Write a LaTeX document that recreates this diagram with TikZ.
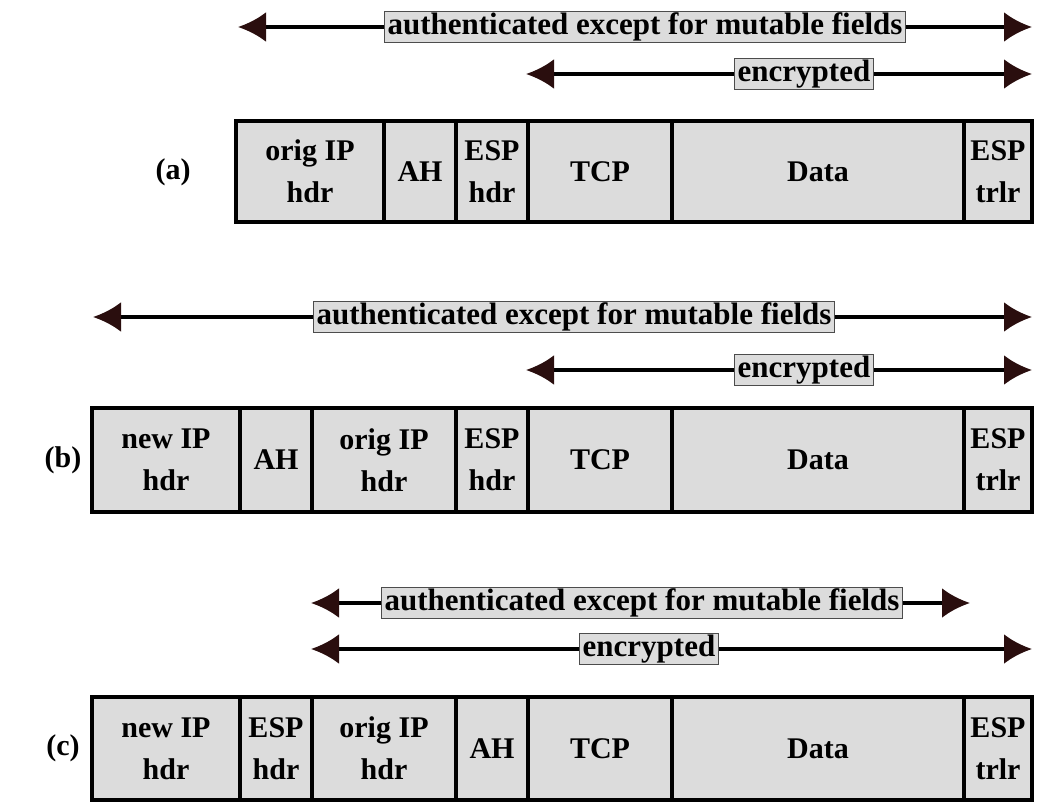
\documentclass[tikz,border=0pt]{standalone}
\usepackage{fontspec}
\setmainfont{Liberation Serif}
\usetikzlibrary{arrows.meta}
\definecolor{cellgray}{HTML}{DCDCDC}
\definecolor{tipcol}{HTML}{2A0E0E}
\tikzset{
  cellst/.style={draw=black, line width=4pt, fill=cellgray, inner sep=0pt, align=center,
    font=\fontsize{30}{42}\selectfont\bfseries},
  lab/.style={draw=black!70, line width=1pt, fill=cellgray, inner xsep=3pt, inner ysep=1pt,
    text height=22pt, text depth=7pt,
    font=\fontsize{31}{34}\selectfont\bfseries},
  rowlab/.style={font=\fontsize{30}{34}\selectfont\bfseries},
  span/.style={draw=black, line width=4pt, -{Latex[length=28pt,width=30pt,color=tipcol]}},
}
\newcommand\cellbox[6]{\node[cellst, minimum width={#3-#2}, minimum height={#5-#4}] (#1) at ({(#2+#3)/2},{(#4+#5)/2}) {#6};}
\begin{document}
\begin{tikzpicture}[x=1pt,y=-1pt]
\useasboundingbox (0,0) rectangle (1037,804);
% ---------- (a)
\node[rowlab] (la) at (173,172) {(a)};
\cellbox{a1}{236}{384}{121}{222}{orig IP\\hdr}
\cellbox{a2}{384}{456}{121}{222}{AH}
\cellbox{a3}{456}{528}{121}{222}{ESP\\hdr}
\cellbox{a4}{528}{672}{121}{222}{TCP}
\cellbox{a5}{672}{964}{121}{222}{Data}
\cellbox{a6}{964}{1032}{121}{222}{ESP\\trlr}
\node[lab] (aauth) at (645,27) {authenticated except for mutable fields};
\coordinate (aauthL) at (238,27);
\coordinate (aauthR) at (1032,27);
\draw[span] (aauth.west) -- (aauthL);
\draw[span] (aauth.east) -- (aauthR);
\node[lab] (aenc) at (804,74) {encrypted};
\coordinate (aencL) at (526,74);
\coordinate (aencR) at (1032,74);
\draw[span] (aenc.west) -- (aencL);
\draw[span] (aenc.east) -- (aencR);
% ---------- (b)
\node[rowlab] (lb) at (63,460) {(b)};
\cellbox{b1}{92}{240}{408}{512}{new IP\\hdr}
\cellbox{b2}{240}{312}{408}{512}{AH}
\cellbox{b3}{312}{456}{408}{512}{orig IP\\hdr}
\cellbox{b4}{456}{528}{408}{512}{ESP\\hdr}
\cellbox{b5}{528}{672}{408}{512}{TCP}
\cellbox{b6}{672}{964}{408}{512}{Data}
\cellbox{b7}{964}{1032}{408}{512}{ESP\\trlr}
\node[lab] (bauth) at (574,317) {authenticated except for mutable fields};
\coordinate (bauthL) at (93,317);
\coordinate (bauthR) at (1032,317);
\draw[span] (bauth.west) -- (bauthL);
\draw[span] (bauth.east) -- (bauthR);
\node[lab] (benc) at (804,370) {encrypted};
\coordinate (bencL) at (526,370);
\coordinate (bencR) at (1032,370);
\draw[span] (benc.west) -- (bencL);
\draw[span] (benc.east) -- (bencR);
% ---------- (c)
\node[rowlab] (lc) at (63,748) {(c)};
\cellbox{c1}{92}{240}{697}{800}{new IP\\hdr}
\cellbox{c2}{240}{312}{697}{800}{ESP\\hdr}
\cellbox{c3}{312}{456}{697}{800}{orig IP\\hdr}
\cellbox{c4}{456}{528}{697}{800}{AH}
\cellbox{c5}{528}{672}{697}{800}{TCP}
\cellbox{c6}{672}{964}{697}{800}{Data}
\cellbox{c7}{964}{1032}{697}{800}{ESP\\trlr}
\node[lab] (cauth) at (642,603) {authenticated except for mutable fields};
\coordinate (cauthL) at (311,603);
\coordinate (cauthR) at (970,603);
\draw[span] (cauth.west) -- (cauthL);
\draw[span] (cauth.east) -- (cauthR);
\node[lab] (cenc) at (649,649) {encrypted};
\coordinate (cencL) at (311,649);
\coordinate (cencR) at (1032,649);
\draw[span] (cenc.west) -- (cencL);
\draw[span] (cenc.east) -- (cencR);
\end{tikzpicture}
\end{document}
